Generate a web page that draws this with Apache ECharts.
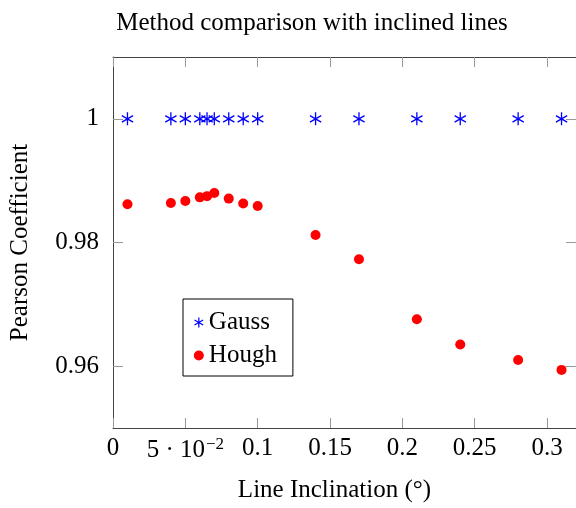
<!DOCTYPE html>
<html>
<head>
<meta charset="utf-8">
<script src="https://cdn.jsdelivr.net/npm/echarts@6/dist/echarts.min.js"></script>
<style>html,body{margin:0;padding:0;background:#fff;}#c{width:576px;height:508px;}</style>
</head>
<body>
<div id="c"></div>
<script>
// Data
const xValues = [0.01, 0.04, 0.05, 0.06, 0.065, 0.07, 0.08, 0.09, 0.10, 0.14, 0.17, 0.21, 0.24, 0.28, 0.31];
const gaussValues = [1, 1, 1, 1, 1, 1, 1, 1, 1, 1, 1, 1, 1, 1, 1];
const houghValues = [0.9862, 0.9864, 0.9867, 0.9873, 0.9875, 0.9880, 0.9871, 0.9863, 0.9859, 0.9812, 0.9773, 0.9676, 0.9635, 0.9610, 0.9594];
const xTickValues = [0, 0.05, 0.1, 0.15, 0.2, 0.25, 0.3];
const xTickLabels = ['0', '{n|5 · 10}{s|−2}', '0.1', '0.15', '0.2', '0.25', '0.3'];
const yTickValues = [0.96, 0.98, 1.0];
const yTickLabels = ['0.96', '0.98', '1'];

const FONT = 'Liberation Serif';
const asterisk = 'path://M0,-1L0,1M-0.866,-0.5L0.866,0.5M-0.866,0.5L0.866,-0.5';

function fmt(vals, labels) {
  return function (v) {
    for (let i = 0; i < vals.length; i++) if (Math.abs(v - vals[i]) < 1e-9) return labels[i];
    return '';
  };
}

const chart = echarts.init(document.getElementById('c'), null, {renderer: 'canvas'});
const axisLineStyle = {color: '#444', width: 1};
const tickStyle = {color: '#999', width: 1};

chart.setOption({
  animation: false,
  backgroundColor: '#fff',
  title: {
    text: 'Method comparison with inclined lines',
    left: 312, top: 11, textAlign: 'center', padding: 0,
    textStyle: {fontFamily: FONT, fontSize: 25, fontWeight: 'normal', color: '#000'}
  },
  grid: {left: 110.5, top: 57, width: 467.2, height: 377.3, containLabel: false},
  legend: {
    orient: 'vertical', left: 183, top: 299,
    backgroundColor: '#fff', borderColor: '#000', borderWidth: 1,
    padding: [11, 16, 8, 9], itemGap: 8, itemWidth: 10, itemHeight: 10, itemTextGap: 4,
    textStyle: {fontFamily: FONT, fontSize: 25, color: '#000'},
    data: [
      {name: 'Gauss', icon: asterisk, itemStyle: {color: 'none', borderColor: '#0000ff', borderWidth: 1.2}},
      {name: 'Hough', icon: 'circle', itemStyle: {color: '#ff0000', borderWidth: 0}}
    ]
  },
  xAxis: [{
    type: 'value', min: 0, max: 0.32, position: 'bottom',
    name: 'Line Inclination (°)', nameLocation: 'middle', nameGap: 50,
    nameTextStyle: {fontFamily: FONT, fontSize: 25, color: '#000', padding: [0, 20, 0, 0]},
    axisLine: {show: true, onZero: false, lineStyle: axisLineStyle},
    axisTick: {show: true, inside: true, length: 10, customValues: xTickValues, lineStyle: tickStyle},
    axisLabel: {
      show: true, customValues: xTickValues, margin: 8, formatter: fmt(xTickValues, xTickLabels),
      fontFamily: FONT, fontSize: 25, color: '#000',
      rich: {n: {fontFamily: FONT, fontSize: 25, color: '#000'}, s: {fontFamily: FONT, fontSize: 17, color: '#000', padding: [0, 0, 12, 1]}}
    },
    splitLine: {show: false}
  }, {
    type: 'value', min: 0, max: 0.32, position: 'top',
    axisLine: {show: true, onZero: false, lineStyle: axisLineStyle},
    axisTick: {show: true, inside: true, length: 10, customValues: xTickValues, lineStyle: tickStyle},
    axisLabel: {show: false}, splitLine: {show: false}
  }],
  yAxis: [{
    type: 'value', min: 0.95, max: 1.01, position: 'left',
    name: 'Pearson Coefficient', nameLocation: 'middle', nameGap: 80, nameRotate: 90,
    nameTextStyle: {fontFamily: FONT, fontSize: 25, color: '#000'},
    axisLine: {show: true, onZero: false, lineStyle: axisLineStyle},
    axisTick: {show: true, inside: true, length: 10, customValues: yTickValues, lineStyle: tickStyle},
    axisLabel: {show: true, customValues: yTickValues, margin: 14, formatter: fmt(yTickValues, yTickLabels), fontFamily: FONT, fontSize: 25, color: '#000'},
    splitLine: {show: false}
  }, {
    type: 'value', min: 0.95, max: 1.01, position: 'right',
    axisLine: {show: true, onZero: false, lineStyle: axisLineStyle},
    axisTick: {show: true, inside: true, length: 10, customValues: yTickValues, lineStyle: tickStyle},
    axisLabel: {show: false}, splitLine: {show: false}
  }],
  series: [{
    name: 'Gauss', type: 'scatter', xAxisIndex: 0, yAxisIndex: 0,
    symbol: asterisk, symbolSize: 13, symbolKeepAspect: true,
    itemStyle: {color: 'none', borderColor: '#0000ff', borderWidth: 1.3, opacity: 1},
    emphasis: {disabled: true},
    data: xValues.map((x, i) => [x, gaussValues[i]])
  }, {
    name: 'Hough', type: 'scatter', xAxisIndex: 0, yAxisIndex: 0,
    symbol: 'circle', symbolSize: 10,
    itemStyle: {color: '#ff0000', opacity: 1},
    emphasis: {disabled: true},
    data: xValues.map((x, i) => [x, houghValues[i]])
  }]
});
</script>
</body>
</html>
